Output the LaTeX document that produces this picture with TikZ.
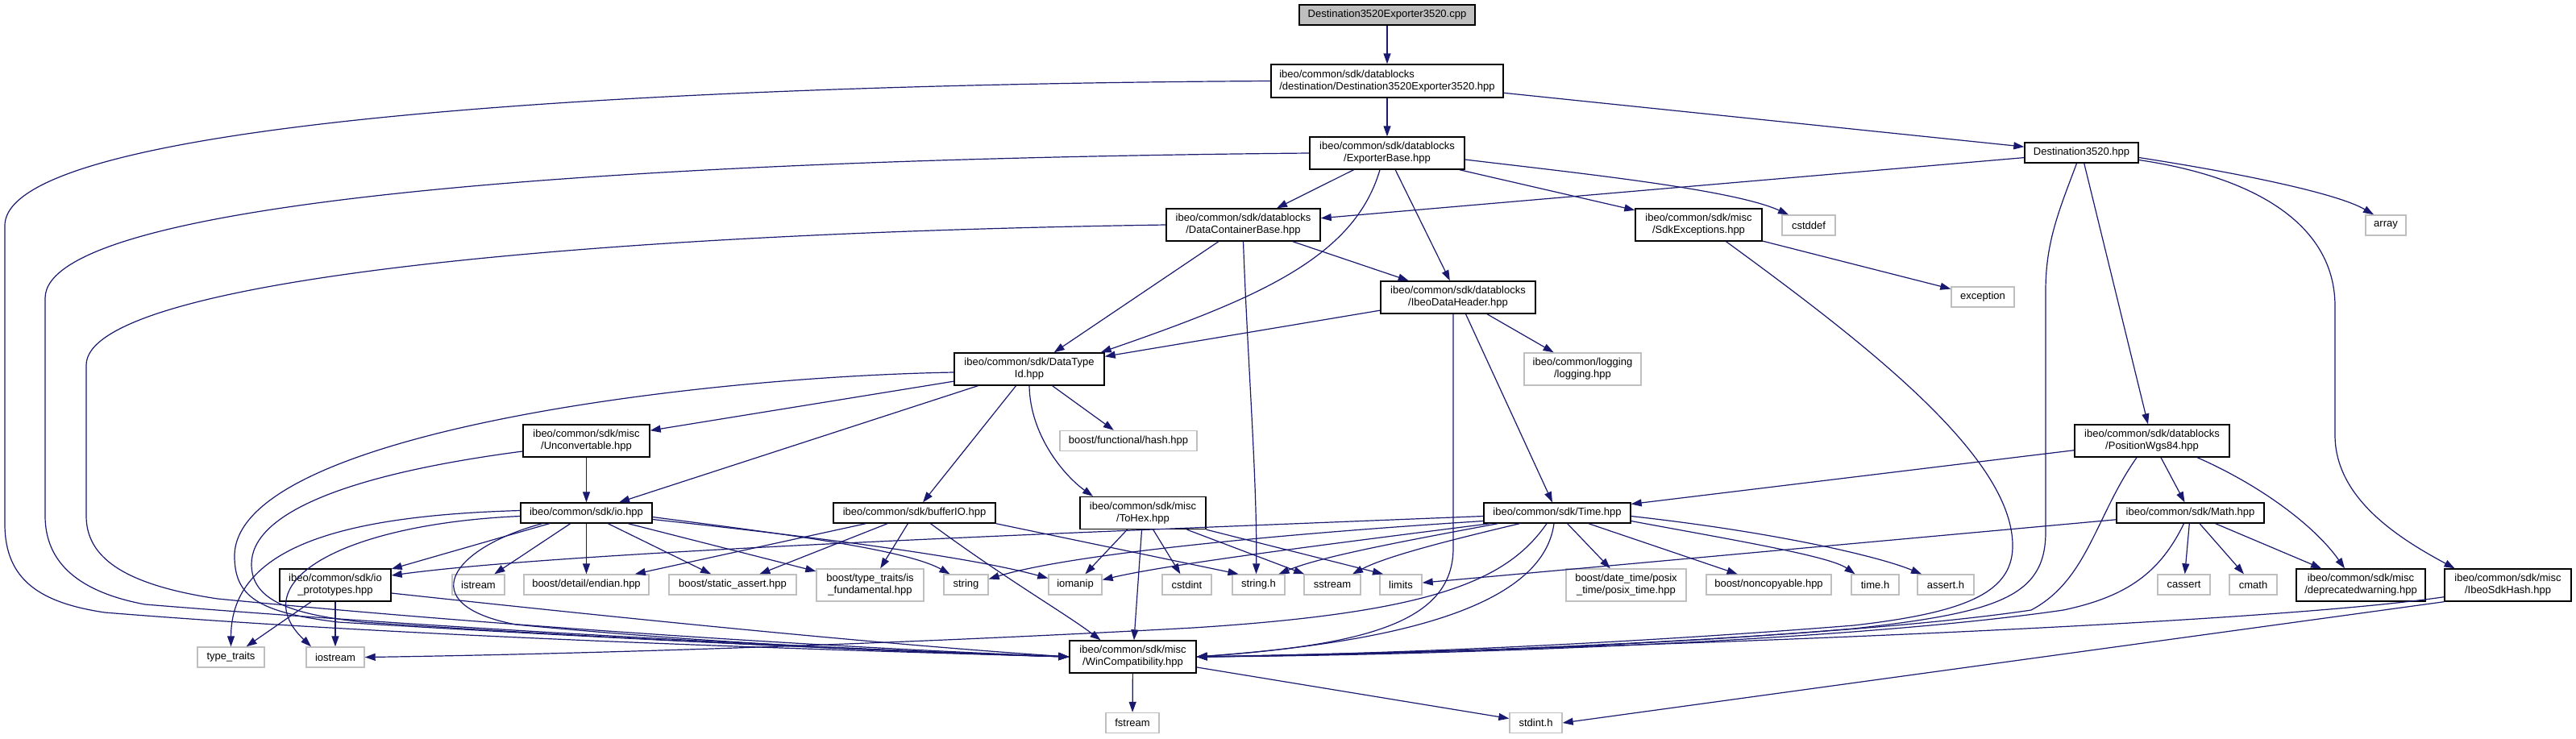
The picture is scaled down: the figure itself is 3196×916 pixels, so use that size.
\documentclass[tikz,border=0pt]{standalone}
\usepackage{fontspec}
\setmainfont{Liberation Sans}
\usetikzlibrary{arrows.meta,calc}
\definecolor{edgeblue}{HTML}{191970}
\definecolor{sysgray}{HTML}{BFBFBF}
\definecolor{rootgray}{HTML}{BFBFBF}
\newcommand{\nodefnt}{\fontsize{13pt}{15pt}\selectfont}
\tikzset{
  doc/.style={draw=black, line width=1.4pt, fill=white, inner sep=0pt, align=center, font=\nodefnt},
  sys/.style={draw=sysgray, line width=1.4pt, fill=white, inner sep=0pt, align=center, font=\nodefnt},
  sz/.style 2 args={minimum width=#1pt, minimum height=#2pt},
  e/.style={draw=edgeblue, line width=1.2pt, -{Triangle[length=13pt,width=9pt]}},
}
\begin{document}
\begin{tikzpicture}[x=1pt,y=-1pt]
\fill[white] (0,0) rectangle (3196,916);
\useasboundingbox (0,0) rectangle (3196,916);
% nodes
\node[doc, sz={218}{25}, fill=rootgray] (root) at (1721,18.5) {Destination3520Exporter3520.cpp};
\node[doc, sz={288}{41}, align=left] (dexp) at (1721,100.5) {ibeo/common/sdk/datablocks\\/destination/Destination3520Exporter3520.hpp};
\node[doc, sz={192}{40}] (expbase) at (1721,190) {ibeo/common/sdk/datablocks\\/ExporterBase.hpp};
\node[doc, sz={141}{25}] (dest) at (2582.5,189.5) {Destination3520.hpp};
\node[doc, sz={191}{40}] (dcb) at (1542.5,279) {ibeo/common/sdk/datablocks\\/DataContainerBase.hpp};
\node[doc, sz={157}{40}] (sdkexc) at (2107.5,279) {ibeo/common/sdk/misc\\/SdkExceptions.hpp};
\node[sys, sz={66}{25}] (cstddef) at (2244,279.5) {cstddef};
\node[sys, sz={50}{25}] (array) at (2960,279.5) {array};
\node[doc, sz={192}{40}] (idh) at (1809,369) {ibeo/common/sdk/datablocks\\/IbeoDataHeader.hpp};
\node[sys, sz={78}{25}] (exception) at (2460,368.5) {exception};
\node[doc, sz={186}{40}] (dtid) at (1277,458) {ibeo/common/sdk/DataType\\Id.hpp};
\node[sys, sz={145}{40}] (logging) at (1963.5,458) {ibeo/common/logging\\/logging.hpp};
\node[doc, sz={157}{40}] (unconv) at (727.5,547) {ibeo/common/sdk/misc\\/Unconvertable.hpp};
\node[sys, sz={170}{25}] (hash) at (1400,547) {boost/functional/hash.hpp};
\node[doc, sz={192}{40}] (pos) at (2670,547) {ibeo/common/sdk/datablocks\\/PositionWgs84.hpp};
\node[doc, sz={163}{25}] (io) at (727.5,636.5) {ibeo/common/sdk/io.hpp};
\node[doc, sz={201}{25}] (bufio) at (1134.5,636.5) {ibeo/common/sdk/bufferIO.hpp};
\node[doc, sz={156}{40}] (tohex) at (1418,636.5) {ibeo/common/sdk/misc\\/ToHex.hpp};
\node[doc, sz={182}{25}] (time) at (1932,636.5) {ibeo/common/sdk/Time.hpp};
\node[doc, sz={183}{25}] (math) at (2717.5,636.5) {ibeo/common/sdk/Math.hpp};
\node[doc, sz={138}{40}] (ioproto) at (416,726) {ibeo/common/sdk/io\\\_prototypes.hpp};
\node[sys, sz={65}{25}] (istream) at (593.5,725.5) {istream};
\node[sys, sz={155}{25}] (endian) at (727.5,725.5) {boost/detail/endian.hpp};
\node[sys, sz={158}{25}] (sassert) at (909,725.5) {boost/static\_assert.hpp};
\node[sys, sz={133}{40}] (isfund) at (1079.5,726) {boost/type\_traits/is\\\_fundamental.hpp};
\node[sys, sz={55}{25}] (string) at (1198.5,725.5) {string};
\node[sys, sz={66}{25}] (iomanip) at (1334,725.5) {iomanip};
\node[sys, sz={61}{25}] (cstdint) at (1472.5,725.5) {cstdint};
\node[sys, sz={65}{25}] (stringh) at (1561.5,725.5) {string.h};
\node[sys, sz={70}{25}] (sstream) at (1653,725.5) {sstream};
\node[sys, sz={52}{25}] (limits) at (1738,725.5) {limits};
\node[sys, sz={149}{40}] (posix) at (2017.5,726) {boost/date\_time/posix\\\_time/posix\_time.hpp};
\node[sys, sz={155}{25}] (noncopy) at (2194.5,725.5) {boost/noncopyable.hpp};
\node[sys, sz={59}{25}] (timeh) at (2326.5,725.5) {time.h};
\node[sys, sz={70}{25}] (asserth) at (2414,725.5) {assert.h};
\node[sys, sz={65}{25}] (cassert) at (2709.5,725.5) {cassert};
\node[sys, sz={59}{25}] (cmath) at (2795.5,725.5) {cmath};
\node[doc, sz={160}{40}] (deprec) at (2929,726) {ibeo/common/sdk/misc\\/deprecatedwarning.hpp};
\node[doc, sz={157}{40}] (sdkhash) at (3111.5,726) {ibeo/common/sdk/misc\\/IbeoSdkHash.hpp};
\node[sys, sz={83}{25}] (typetraits) at (286.5,815.5) {type\_traits};
\node[sys, sz={72}{25}] (iostream) at (416,815.5) {iostream};
\node[doc, sz={157}{40}] (wincompat) at (1405.5,815) {ibeo/common/sdk/misc\\/WinCompatibility.hpp};
\node[sys, sz={66}{25}] (fstream) at (1405,897) {fstream};
\node[sys, sz={65}{25}] (stdint) at (1905.5,897) {stdint.h};
% edges
\draw[e] (root) -- (dexp);
\draw[e] (dexp) -- (expbase);
\draw[e] (dexp) -- (dest);
\draw[e] (dexp.west) .. controls (800,105) and (6,150) .. (6,280) -- (6,650) .. controls (6,720) and (50,748) .. (130,760) .. controls (500,790) and (1000,806) .. (wincompat.west);
\draw[e] (expbase.west) .. controls (750,198) and (56,250) .. (56,370) -- (56,640) .. controls (56,700) and (100,735) .. (180,750) .. controls (550,780) and (1000,804) .. (wincompat.west);
\draw[e] (expbase) -- (dcb);
\draw[e] ($(expbase.south)+(-9,0)$) .. controls (1680,320) and (1560,370) .. ($(dtid.north east)+(-5,0)$);
\draw[e] (expbase) -- (idh);
\draw[e] (expbase) -- (sdkexc);
\draw[e] ($(expbase.east)+(0,8)$) .. controls (1960,215) and (2150,235) .. ($(cstddef.north)+(-25,0)$);
\draw[e] (dest) -- (dcb);
\draw[e] ($(dest.south)+(-6,0)$) .. controls (2555,260) and (2538,300) .. (2538,360) -- (2538,660) .. controls (2538,740) and (2480,760) .. (2300,780) .. controls (2000,805) and (1700,812) .. (wincompat.east);
\draw[e] (dest) -- (pos);
\draw[e] ($(dest.east)+(0,6)$) .. controls (2780,215) and (2900,240) .. ($(array.north)+(-15,0)$);
\draw[e] ($(dest.east)+(0,9)$) .. controls (2800,220) and (2897,280) .. (2897,380) -- (2897,540) .. controls (2897,620) and (2980,670) .. ($(sdkhash.north)+(-66,0)$);
\draw[e] (dcb.west) .. controls (700,290) and (107,350) .. (107,453) -- (107,640) .. controls (107,690) and (150,725) .. (270,743) .. controls (600,775) and (1000,802) .. (wincompat.west);
\draw[e] (dcb) -- (dtid);
\draw[e] (dcb) -- (idh);
\draw[e] (dcb.south) .. controls (1548,450) and (1560,600) .. ($(stringh.north)+(-3,0)$);
\draw[e] (sdkexc) -- (exception);
\draw[e] ($(sdkexc.south)+(34,0)$) .. controls (2320,430) and (2500,570) .. (2497,680) .. controls (2495,735) and (2440,760) .. (2300,776) .. controls (2000,800) and (1700,812) .. (wincompat.east);
\draw[e] (idh) -- (dtid);
\draw[e] (idh) -- (logging);
\draw[e] (idh) -- (time);
\draw[e] ($(idh.south)+(-6,0)$) .. controls (1803,500) and (1803,600) .. (1803,680) .. controls (1803,770) and (1700,800) .. (wincompat.east);
\draw[e] (dtid) -- (unconv);
\draw[e] (dtid) -- (io);
\draw[e] (dtid) -- (bufio);
\draw[e] (dtid.south) .. controls (1278,540) and (1320,590) .. ($(tohex.north)+(-62,0)$);
\draw[e] (dtid) -- (hash);
\draw[e] ($(dtid.west)+(0,4)$) .. controls (850,468) and (291,540) .. (291,690) .. controls (291,740) and (320,760) .. (420,772) .. controls (800,795) and (1100,808) .. (wincompat.west);
\draw[e] (unconv) -- (io);
\draw[e] ($(unconv.west)+(0,13)$) .. controls (420,590) and (312,640) .. (312,700) .. controls (312,745) and (360,762) .. (450,772) .. controls (800,795) and (1100,808) .. (wincompat.west);
\draw[e] (io) -- (ioproto);
\draw[e] (io) -- (istream);
\draw[e] (io) -- (endian);
\draw[e] (io) -- (sassert);
\draw[e] (io) -- (isfund);
\draw[e] ($(io.east)+(0,5)$) .. controls (950,660) and (1120,680) .. ($(string.north)+(-20,0)$);
\draw[e] ($(io.east)+(0,8)$) .. controls (1000,665) and (1200,690) .. ($(iomanip.west)+(0,-8)$);
\draw[e] ($(io.west)+(0,-3)$) .. controls (420,640) and (287,680) .. (typetraits.north);
\draw[e] ($(io.west)+(0,4)$) .. controls (430,650) and (300,720) .. ($(iostream.north)+(-30,0)$);
\draw[e] ($(io.south)+(-55,0)$) .. controls (560,680) and (510,750) .. (640,775) .. controls (900,800) and (1150,810) .. (wincompat.west);
\draw[e] (ioproto) -- (typetraits);
\draw[e] (ioproto) -- (iostream);
\draw[e] ($(ioproto.east)+(0,10)$) .. controls (800,770) and (1100,800) .. (wincompat.west);
\draw[e] (bufio) -- (endian);
\draw[e] (bufio) -- (sassert);
\draw[e] (bufio) -- (isfund);
\draw[e] (bufio.south east) -- ($(stringh.north)+(-25,0)$);
\draw[e] ($(bufio.south)+(20,0)$) .. controls (1250,720) and (1320,760) .. ($(wincompat.north)+(-40,0)$);
\draw[e] (tohex) -- (iomanip);
\draw[e] (tohex) -- (cstdint);
\draw[e] (tohex) -- (sstream);
\draw[e] (tohex.south east) -- ($(limits.north)+(-22,0)$);
\draw[e] (tohex) -- (wincompat);
\draw[e] ($(time.west)+(0,4)$) .. controls (1300,662) and (700,685) .. ($(ioproto.east)+(0,-12)$);
\draw[e] ($(time.west)+(0,10)$) .. controls (1550,665) and (1320,690) .. ($(string.east)+(0,-7)$);
\draw[e] ($(time.south west)+(8,0)$) .. controls (1650,675) and (1450,700) .. ($(iomanip.east)+(0,-6)$);
\draw[e] ($(time.south west)+(18,0)$) .. controls (1750,670) and (1640,690) .. ($(stringh.north)+(25,0)$);
\draw[e] ($(time.south west)+(45,0)$) .. controls (1800,670) and (1720,690) .. ($(sstream.north)+(25,0)$);
\draw[e] ($(time.south)+(-13,0)$) .. controls (1870,720) and (1780,760) .. (1480,779) .. controls (1100,800) and (700,812) .. (iostream.east);
\draw[e] ($(time.south)+(-4,0)$) .. controls (1915,745) and (1760,795) .. (wincompat.east);
\draw[e] (time) -- (posix);
\draw[e] (time) -- (noncopy);
\draw[e] ($(time.east)+(0,10)$) .. controls (2150,670) and (2270,690) .. ($(timeh.north)+(-25,0)$);
\draw[e] ($(time.east)+(0,4)$) .. controls (2200,660) and (2330,690) .. ($(asserth.north)+(-30,0)$);
\draw[e] (math) -- (limits);
\draw[e] ($(math.south)+(-8,0)$) .. controls (2680,710) and (2640,740) .. (2560,757) .. controls (2300,795) and (1800,813) .. (wincompat.east);
\draw[e] (math) -- (cassert);
\draw[e] (math) -- (cmath);
\draw[e] (math) -- (deprec);
\draw[e] (pos) -- (time);
\draw[e] ($(pos.south)+(-19,0)$) .. controls (2600,640) and (2590,720) .. (2520,757) .. controls (2300,790) and (1800,812) .. (wincompat.east);
\draw[e] (pos) -- (math);
\draw[e] ($(pos.south)+(56,0)$) .. controls (2800,600) and (2870,650) .. ($(deprec.north)+(-20,0)$);
\draw[e] ($(sdkhash.south west)+(0,-6)$) .. controls (2800,775) and (2000,805) .. (wincompat.east);
\draw[e] (sdkhash.south west) -- (stdint.east);
\draw[e] (wincompat) -- (fstream);
\draw[e] (wincompat) -- (stdint);
\end{tikzpicture}
\end{document}
